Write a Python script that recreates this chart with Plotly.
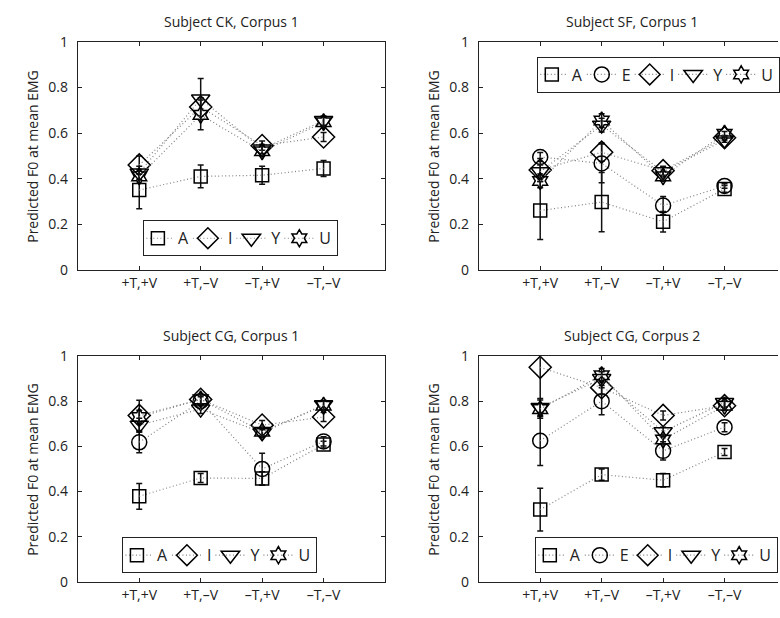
import plotly.graph_objects as go

# Condition labels on the x axis
categories = ["+T,+V", "+T,\u2013V", "\u2013T,+V", "\u2013T,\u2013V"]
xpos = [1, 2, 3, 4]

ytick_vals = [0, 0.2, 0.4, 0.6, 0.8, 1.0]
ytick_text = ["0", "0.2", "0.4", "0.6", "0.8", "1"]

# Subject CK, Corpus 1
ck1_A = [0.35, 0.41, 0.415, 0.445]
ck1_A_err = [0.082, 0.05, 0.04, 0.035]
ck1_I = [0.46, 0.715, 0.545, 0.583]
ck1_I_err = [0.04, 0.04, 0.02, 0.02]
ck1_Y = [0.425, 0.75, 0.53, 0.655]
ck1_Y_err = [0.03, 0.09, 0.02, 0.02]
ck1_U = [0.41, 0.68, 0.52, 0.648]
ck1_U_err = [0.03, 0.065, 0.02, 0.02]

# Subject SF, Corpus 1
sf1_A = [0.26, 0.297, 0.211, 0.355]
sf1_A_err = [0.127, 0.13, 0.045, 0.015]
sf1_E = [0.495, 0.467, 0.282, 0.368]
sf1_E_err = [0.02, 0.085, 0.04, 0.01]
sf1_I = [0.438, 0.516, 0.435, 0.58]
sf1_I_err = [0.05, 0.04, 0.02, 0.01]
sf1_Y = [0.43, 0.635, 0.43, 0.57]
sf1_Y_err = [0.03, 0.03, 0.02, 0.01]
sf1_U = [0.39, 0.655, 0.41, 0.597]
sf1_U_err = [0.03, 0.03, 0.02, 0.01]

# Subject CG, Corpus 1
cg1_A = [0.379, 0.46, 0.458, 0.608]
cg1_A_err = [0.057, 0.02, 0.03, 0.015]
cg1_E = [0.618, 0.80, 0.50, 0.622]
cg1_E_err = [0.046, 0.02, 0.07, 0.02]
cg1_I = [0.737, 0.808, 0.694, 0.73]
cg1_I_err = [0.067, 0.02, 0.02, 0.02]
cg1_Y = [0.694, 0.765, 0.66, 0.784]
cg1_Y_err = [0.03, 0.02, 0.02, 0.02]
cg1_U = [0.73, 0.808, 0.665, 0.78]
cg1_U_err = [0.03, 0.02, 0.02, 0.02]

# Subject CG, Corpus 2
cg2_A = [0.32, 0.475, 0.45, 0.575]
cg2_A_err = [0.095, 0.025, 0.03, 0.015]
cg2_E = [0.625, 0.80, 0.58, 0.685]
cg2_E_err = [0.11, 0.06, 0.04, 0.02]
cg2_I = [0.95, 0.86, 0.737, 0.78]
cg2_I_err = [0.2, 0.03, 0.02, 0.02]
cg2_Y = [0.772, 0.90, 0.665, 0.794]
cg2_Y_err = [0.04, 0.03, 0.02, 0.02]
cg2_U = [0.765, 0.915, 0.63, 0.78]
cg2_U_err = [0.04, 0.03, 0.02, 0.02]

symbols = {
    "A": ("square-open", 13),
    "E": ("circle-open", 15),
    "I": ("diamond-open", 17),
    "Y": ("triangle-down-open", 16),
    "U": ("hexagram-open", 13),
}

FONT = "Open Sans"
W, H = 780, 618

panels = [
    # (title, series, axis suffix, legend id, vowels hidden from legend)
    ("Subject CK, Corpus 1",
     [("A", ck1_A, ck1_A_err), ("I", ck1_I, ck1_I_err),
      ("Y", ck1_Y, ck1_Y_err), ("U", ck1_U, ck1_U_err)], "", "legend", []),
    ("Subject SF, Corpus 1",
     [("A", sf1_A, sf1_A_err), ("E", sf1_E, sf1_E_err), ("I", sf1_I, sf1_I_err),
      ("Y", sf1_Y, sf1_Y_err), ("U", sf1_U, sf1_U_err)], "2", "legend2", []),
    ("Subject CG, Corpus 1",
     [("A", cg1_A, cg1_A_err), ("E", cg1_E, cg1_E_err), ("I", cg1_I, cg1_I_err),
      ("Y", cg1_Y, cg1_Y_err), ("U", cg1_U, cg1_U_err)], "3", "legend3", ["E"]),
    ("Subject CG, Corpus 2",
     [("A", cg2_A, cg2_A_err), ("E", cg2_E, cg2_E_err), ("I", cg2_I, cg2_I_err),
      ("Y", cg2_Y, cg2_Y_err), ("U", cg2_U, cg2_U_err)], "4", "legend4", []),
]

# Pixel geometry of the four axes boxes (left, right, top, bottom)
px_left = [78, 480, 78, 480]
px_right = [386, 780, 386, 780]
px_top = [33, 33, 357, 357]
px_bottom = [268, 268, 590, 590]
unit_px = 61.6  # pixels per category step

legend_cx = [241, 660, 220, 658]
legend_top = [217, 48, 544, 544]

fig = go.Figure()
annotations = []
layout = {}

for i, (title, series, sfx, leg, hidden) in enumerate(panels):
    for name, vals, errs in series:
        sym, size = symbols[name]
        fig.add_trace(go.Scatter(
            x=xpos, y=vals, name=name, mode="lines+markers",
            xaxis="x" + sfx, yaxis="y" + sfx, legend=leg,
            showlegend=name not in hidden,
            line=dict(color="#808080", width=1.2, dash="1px,2.5px"),
            marker=dict(symbol=sym, size=size, color="black",
                        line=dict(color="#111111", width=1.5)),
            error_y=dict(type="data", array=errs, visible=True,
                         color="#111111", thickness=1.5, width=3),
        ))

    x0 = px_left[i] / W
    x1 = px_right[i] / W
    y0 = 1 - px_bottom[i] / H
    y1 = 1 - px_top[i] / H
    xmax = (px_right[i] - px_left[i]) / unit_px
    is_right = i % 2 == 1

    layout["xaxis" + sfx] = dict(
        domain=[x0, x1], range=[0, xmax], anchor="y" + sfx,
        tickvals=xpos, ticktext=categories, ticks="inside", ticklen=4,
        tickcolor="#222222", showline=True, linecolor="#222222", linewidth=1,
        mirror="ticks", showgrid=False, zeroline=False,
        tickfont=dict(family=FONT, size=14, color="#222222"),
    )
    layout["yaxis" + sfx] = dict(
        domain=[y0, y1], range=[0, 1], anchor="x" + sfx,
        tickvals=ytick_vals, ticktext=ytick_text, ticks="inside", ticklen=4,
        tickcolor="#222222", showline=True, linecolor="#222222", linewidth=1,
        mirror=False if is_right else "ticks", showgrid=False, zeroline=False,
        tickfont=dict(family=FONT, size=14, color="#222222"),
        ticklabelstandoff=6,
    )

    # Panel title
    full_right = px_left[i] + 5 * unit_px
    annotations.append(dict(
        text=title, x=(px_left[i] + full_right) / 2 / W, y=1 - (px_top[i] - 21) / H,
        xref="paper", yref="paper", showarrow=False, xanchor="center", yanchor="middle",
        font=dict(family=FONT, size=14, color="#222222"),
    ))
    # Y axis title
    annotations.append(dict(
        text="Predicted F0 at mean EMG", x=(px_left[i] - 45) / W,
        y=(y0 + y1) / 2, xref="paper", yref="paper", showarrow=False,
        textangle=-90, xanchor="center", yanchor="middle",
        font=dict(family=FONT, size=14, color="#222222"),
    ))

    layout[leg] = dict(
        orientation="h", x=legend_cx[i] / W, y=1 - legend_top[i] / H,
        xanchor="center", yanchor="top", bgcolor="white",
        bordercolor="#222222", borderwidth=1,
        font=dict(family=FONT, size=16, color="#222222"),
        itemwidth=30, indentation=-6, tracegroupgap=0,
    )

fig.update_layout(
    width=W, height=H, margin=dict(l=0, r=0, t=0, b=0),
    paper_bgcolor="white", plot_bgcolor="white",
    annotations=annotations, **layout,
)

fig.write_html("out.html")
